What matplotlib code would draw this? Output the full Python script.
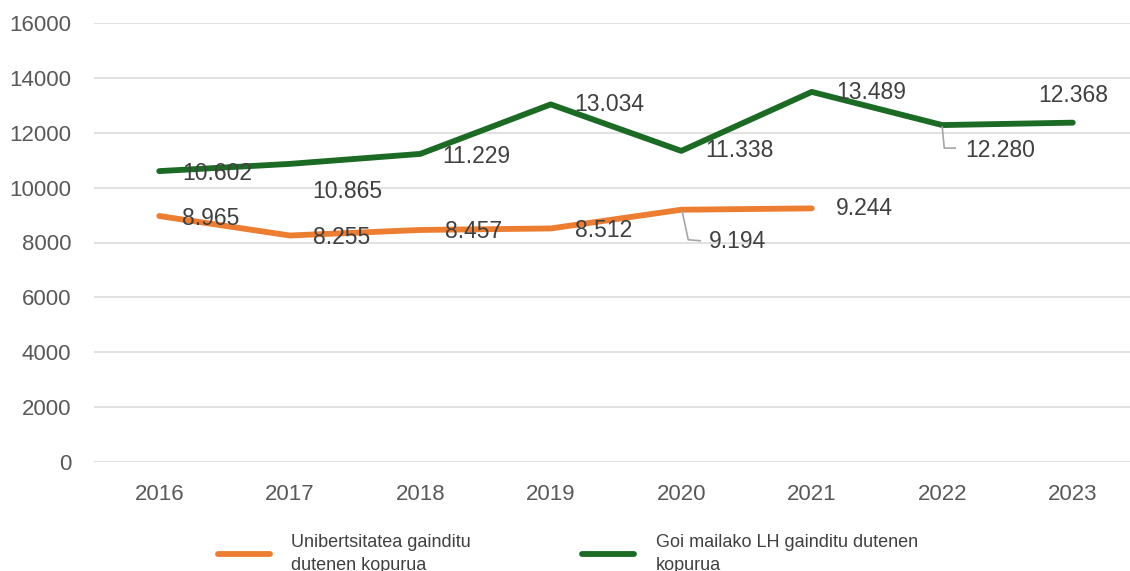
import matplotlib
matplotlib.use("Agg")
import matplotlib.pyplot as plt
from matplotlib.lines import Line2D
from matplotlib.transforms import offset_copy

years = ["2016", "2017", "2018", "2019", "2020", "2021", "2022", "2023"]
univ = [8965, 8255, 8457, 8512, 9194, 9244]
lh = [10602, 10865, 11229, 13034, 11338, 13489, 12280, 12368]
univ_labels = ["8.965", "8.255", "8.457", "8.512", "9.194", "9.244"]
lh_labels = ["10.602", "10.865", "11.229", "13.034", "11.338", "13.489", "12.280", "12.368"]
series_names = ["Unibertsitatea gainditu\ndutenen kopurua",
                "Goi mailako LH gainditu dutenen\nkopurua"]
yticks = [0, 2000, 4000, 6000, 8000, 10000, 12000, 14000, 16000]

ORANGE = "#ED7D31"
GREEN = "#1B6B24"
FONT = "Liberation Sans"
plt.rcParams['font.family'] = [FONT, 'DejaVu Sans']

W, H = 1130, 571
fig = plt.figure(figsize=(W / 100, H / 100), dpi=100)
ax = fig.add_axes([94 / W, 109 / H, (1138 - 94) / W, (548 - 109) / H])

x_u = list(range(len(univ)))
x_l = list(range(len(lh)))
ax.plot(x_u, univ, color=ORANGE, lw=4.2, solid_capstyle='round', solid_joinstyle='round', zorder=3)
ax.plot(x_l, lh, color=GREEN, lw=4.2, solid_capstyle='round', solid_joinstyle='round', zorder=3)

ax.set_xlim(-0.5, 7.5)
ax.set_ylim(0, 16000)
ax.set_yticks(yticks)
ax.set_yticklabels([str(v) for v in yticks])
ax.set_xticks(x_l)
ax.set_xticklabels(years)
ax.grid(axis='y', color='#D9D9D9', lw=1.1, zorder=0)
ax.set_axisbelow(True)
for s in ax.spines.values():
    s.set_visible(False)
ax.tick_params(axis='both', length=0, labelsize=16, labelcolor='#595959')
ax.tick_params(axis='y', pad=16.5)
ax.tick_params(axis='x', pad=15.5)

px = 0.72  # pixels -> points
LBL = dict(fontsize=16.5, color='#404040', zorder=4)

# label offsets in pixels (dx to left edge, dy up)
lh_off = [(23, -2), (23, -28), (22, -3), (24, 0), (24, 0), (24, -1), (23, -25), None]
u_off = [(23, -2), (23, -2), (25, -2), (24, -2), (28, -32), (24, 0)]

for i, (v, t) in enumerate(zip(lh, lh_labels)):
    off = lh_off[i]
    if off is None:
        ax.annotate(t, (i, v), xytext=(0, 27 * px), textcoords='offset points',
                    ha='center', va='center', **LBL)
    else:
        ax.annotate(t, (i, v), xytext=(off[0] * px, off[1] * px), textcoords='offset points',
                    ha='left', va='center', **LBL)
for i, (v, t) in enumerate(zip(univ, univ_labels)):
    off = u_off[i]
    ax.annotate(t, (i, v), xytext=(off[0] * px, off[1] * px), textcoords='offset points',
                ha='left', va='center', **LBL)

# leader lines for 12.280 and 9.194
def leader(i, v, pts):
    disp_to_fig = fig.transFigure.inverted()
    arr = []
    for dx, dy in pts:
        tr = offset_copy(ax.transData, fig=fig, x=dx, y=dy, units='dots')
        arr.append(disp_to_fig.transform(tr.transform((i, v))))
    fig.add_artist(Line2D([a[0] for a in arr], [a[1] for a in arr],
                          color='#A6A6A6', lw=1.2, transform=fig.transFigure, zorder=2))

leader(6, lh[6], [(0, -2), (2, -23), (13, -23)])
leader(4, univ[4], [(1, -2), (7, -30), (19, -31)])

handles = [Line2D([], [], color=ORANGE, lw=4.2, solid_capstyle='round'),
           Line2D([], [], color=GREEN, lw=4.2, solid_capstyle='round')]
leg = fig.legend(handles, series_names, loc='center left',
                 bbox_to_anchor=(218 / W, 1 - 554 / H), ncol=2, frameon=False,
                 fontsize=13, handlelength=52 / 18, handletextpad=21 / 18,
                 columnspacing=111 / 18, borderpad=0, borderaxespad=0)
for t in leg.get_texts():
    t.set_color('#404040')
    t.set_linespacing(1.45)

fig.savefig("out.png", dpi=100)
